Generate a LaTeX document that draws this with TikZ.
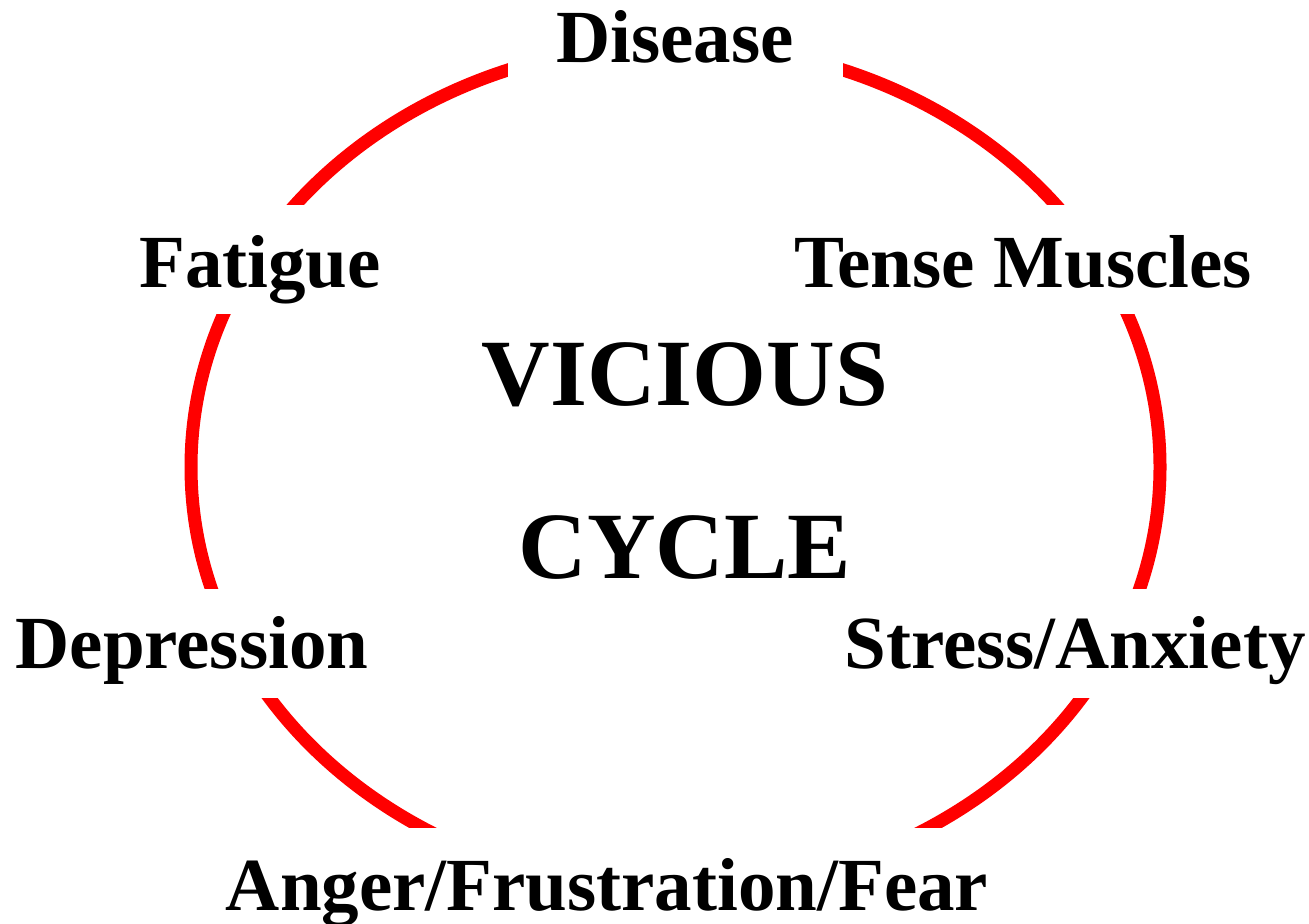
\documentclass[tikz,border=0pt]{standalone}
\usepackage{fontspec}
\setmainfont{Liberation Serif}
\begin{document}
\begin{tikzpicture}[x=0.5pt,y=-0.5pt,
  lbl/.style={font=\bfseries\fontsize{37.5}{40}\selectfont, anchor=base, inner sep=0pt},
  big/.style={font=\bfseries\fontsize{47.5}{50}\selectfont, anchor=base, inner sep=0pt},
  ring/.style={draw=red, line width=6.5pt},
  mask/.style={fill=white, draw=none}]
\useasboundingbox (0,0) rectangle (1309,924);
% the cycle
\draw[ring] (675.5,467) ellipse [x radius=242.25pt, y radius=211.5pt];
% gaps where the labels sit
\fill[mask] (508,0) rectangle (843,110);
\fill[mask] (0,205) rectangle (500,314);
\fill[mask] (850,205) rectangle (1309,314);
\fill[mask] (0,589) rectangle (500,698);
\fill[mask] (850,589) rectangle (1309,698);
\fill[mask] (0,828) rectangle (1309,924);
% labels
\node[lbl] (disease) at (675,63) {Disease};
\node[lbl] (fatigue) at (260,288) {Fatigue};
\node[lbl] (tense) at (1023,288) {Tense Muscles};
\node[lbl] (depression) at (192,668) {Depression};
\node[lbl] (stress) at (1075,668) {Stress/Anxiety};
\node[lbl] (anger) at (607,910) {Anger/Frustration/Fear};
\node[big] (vicious) at (685,405) {VICIOUS};
\node[big] (cycle) at (685,578) {CYCLE};
\end{tikzpicture}
\end{document}
